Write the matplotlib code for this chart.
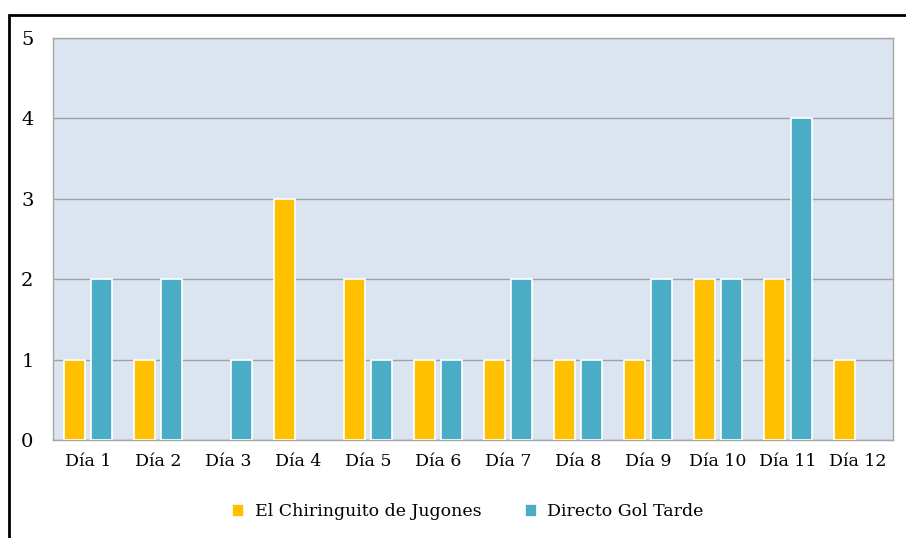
import matplotlib
matplotlib.use("Agg")
import matplotlib.pyplot as plt
import numpy as np
from matplotlib.patches import Rectangle

categories = ["Día 1", "Día 2", "Día 3", "Día 4", "Día 5", "Día 6",
              "Día 7", "Día 8", "Día 9", "Día 10", "Día 11", "Día 12"]
chiringuito = [1, 1, 0, 3, 2, 1, 1, 1, 1, 2, 2, 1]
directo_gol = [2, 2, 1, 0, 1, 1, 2, 1, 2, 2, 4, 0]
series_names = ["El Chiringuito de Jugones", "Directo Gol Tarde"]
yticks = [0, 1, 2, 3, 4, 5]

plt.rcParams['font.family'] = ['DejaVu Serif']

fig = plt.figure(figsize=(9.06, 5.38), dpi=100)
ax = fig.add_axes([53/906, 1-440/538, (893-53)/906, (440-38)/538])
ax.set_facecolor("#DBE5F1")

x = np.arange(len(categories))
w = 0.3
off = 0.193
ec1 = ["white" if v > 0 else "none" for v in chiringuito]
ec2 = ["white" if v > 0 else "none" for v in directo_gol]
ax.bar(x - off, chiringuito, w, color="#FFC000", edgecolor=ec1, linewidth=1.2,
       label=series_names[0], zorder=3)
ax.bar(x + off, directo_gol, w, color="#4BACC6", edgecolor=ec2, linewidth=1.2,
       label=series_names[1], zorder=3)

ax.set_xlim(-0.5, len(categories) - 0.5)
ax.set_ylim(0, 5)
ax.set_yticks(yticks)
ax.set_yticklabels([str(t) for t in yticks], fontsize=14)
ax.set_xticks(x)
ax.set_xticklabels(categories, fontsize=12.5)
ax.tick_params(axis='both', length=0)
ax.tick_params(axis='x', pad=9)
ax.tick_params(axis='y', pad=14)
ax.yaxis.grid(True, color="#A0A0A0", linewidth=1, zorder=1)
ax.set_axisbelow(True)
for s in ax.spines.values():
    s.set_color("#A6A6A6")
    s.set_linewidth(1)

leg = fig.legend(loc="center", bbox_to_anchor=(468/906, 1-512/538), ncol=2,
                 frameon=False, fontsize=12.5, handlelength=0.7, handleheight=0.7,
                 columnspacing=2.5, handletextpad=0.6)

fig.patches.append(Rectangle((9/906, -0.1), 1.2, 1-15/538+0.1, transform=fig.transFigure,
                             fill=False, edgecolor="black", linewidth=2))

fig.savefig("out.png", dpi=100)
